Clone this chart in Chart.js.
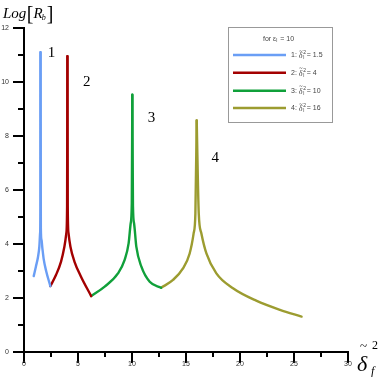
<!DOCTYPE html>
<html><head><meta charset="utf-8">
<script src="https://cdn.jsdelivr.net/npm/chart.js@4"></script>
<style>html,body{margin:0;padding:0;background:#fff}canvas{display:block}</style>
</head><body>
<canvas id="c" width="382" height="377"></canvas>
<script>
// ---- data ----
const seriesNames = ['1', '2', '3', '4'];
const legendValues = ['1.5', '4', '10', '16'];
const legendTitleValue = '10';

const s1X = [0.90, 1.10, 1.30, 1.42, 1.49, 1.52, 1.53, 1.56, 1.62, 1.70, 1.82, 2.05, 2.44];
const s1Y = [2.81, 3.16, 3.53, 3.90, 4.40, 5.30, 11.10, 4.60, 4.15, 3.85, 3.45, 3.00, 2.44];

const s2X = [2.44, 2.96, 3.43, 3.74, 3.92, 3.99, 4.02, 4.05, 4.12, 4.30, 4.67, 5.28, 6.22];
const s2Y = [2.44, 2.85, 3.35, 3.90, 4.40, 5.40, 10.96, 5.40, 4.40, 3.90, 3.35, 2.79, 2.07];

const s3X = [6.22, 7.47, 8.70, 9.32, 9.69, 9.88, 9.98, 10.03, 10.09, 10.19, 10.40, 10.87, 11.64, 12.70];
const s3Y = [2.07, 2.42, 2.91, 3.41, 4.03, 4.77, 5.50, 9.53, 5.40, 4.77, 3.90, 3.16, 2.60, 2.38];

const s4X = [12.70, 13.80, 14.72, 15.34, 15.71, 15.87, 15.99, 16.18, 16.42, 16.89, 17.81, 19.35, 21.50, 23.70, 25.70];
const s4Y = [2.38, 2.67, 3.10, 3.65, 4.40, 5.14, 8.58, 5.14, 4.40, 3.65, 2.91, 2.36, 1.90, 1.56, 1.31];

const xTicks = [0, 2.5, 5, 7.5, 10, 12.5, 15, 17.5, 20, 22.5, 25, 27.5, 30];
const xTickLabels = ['0', '', '5', '', '10', '', '15', '', '20', '', '25', '', '30'];
const yTicks = [0, 1, 2, 3, 4, 5, 6, 7, 8, 9, 10, 11, 12];
const yTickLabels = ['0', '', '2', '', '4', '', '6', '', '8', '', '10', '', '12'];

// ---- styles ----
const colors = ['#6a9ef5', '#a30000', '#10a03a', '#9c9c30'];
const curveLabelPos = [[2.55, 11.06], [5.8, 10.0], [11.8, 8.65], [17.7, 7.2]];

const allX = [s1X, s2X, s3X, s4X], allY = [s1Y, s2Y, s3Y, s4Y];
const datasets = [];
allX.forEach((xs, i) => {
  const ys = allY[i];
  const pk = ys.indexOf(Math.max(...ys));
  const branches = [[0, pk + 1], [pk, ys.length]];
  branches.forEach(([a, b]) => {
    datasets.push({
      label: seriesNames[i],
      data: xs.slice(a, b).map((x, k) => ({ x: x, y: ys[a + k] })),
      showLine: true,
      borderColor: colors[i],
      backgroundColor: colors[i],
      borderWidth: 2.4,
      pointRadius: 0,
      cubicInterpolationMode: 'monotone',
      fill: false
    });
  });
});

const axisPlugin = {
  id: 'axes',
  afterDraw(chart) {
    const ctx = chart.ctx, xs = chart.scales.x, ys = chart.scales.y;
    const x0 = xs.getPixelForValue(0), y0 = ys.getPixelForValue(0);
    const xEnd = xs.getPixelForValue(30), yTop = ys.getPixelForValue(12);
    ctx.save();
    ctx.strokeStyle = '#000';
    ctx.lineWidth = 2;
    ctx.lineCap = 'butt';
    ctx.beginPath(); ctx.moveTo(x0 - 1, y0); ctx.lineTo(xEnd + 1, y0); ctx.stroke();
    ctx.beginPath(); ctx.moveTo(x0, yTop - 1); ctx.lineTo(x0, y0 + 1); ctx.stroke();
    xTicks.forEach((v, i) => {
      const p = xs.getPixelForValue(v);
      const len = xTickLabels[i] ? 11 : 5;
      ctx.beginPath(); ctx.moveTo(p, y0); ctx.lineTo(p, y0 + len); ctx.stroke();
    });
    yTicks.forEach((v, i) => {
      const p = ys.getPixelForValue(v);
      const len = yTickLabels[i] ? 11 : 6;
      ctx.beginPath(); ctx.moveTo(x0 - len, p); ctx.lineTo(x0, p); ctx.stroke();
    });
    ctx.fillStyle = '#333';
    ctx.font = '7px "Liberation Sans", Arial, sans-serif';
    ctx.textAlign = 'center'; ctx.textBaseline = 'middle';
    xTicks.forEach((v, i) => {
      if (!xTickLabels[i]) return;
      ctx.fillText(xTickLabels[i], xs.getPixelForValue(v), y0 + 12);
    });
    ctx.textAlign = 'right';
    yTicks.forEach((v, i) => {
      if (!yTickLabels[i]) return;
      ctx.fillText(yTickLabels[i], 9, ys.getPixelForValue(v));
    });

    // curve number labels
    ctx.fillStyle = '#000';
    ctx.font = '15px "Liberation Serif", "Times New Roman", serif';
    ctx.textAlign = 'center';
    seriesNames.forEach((n, i) => {
      ctx.fillText(n, xs.getPixelForValue(curveLabelPos[i][0]), ys.getPixelForValue(curveLabelPos[i][1]));
    });

    // y title  Log[R_b]
    ctx.textAlign = 'left'; ctx.textBaseline = 'alphabetic';
    let x = 3;
    const base = 18;
    ctx.font = 'italic 15px "Liberation Serif", serif';
    ctx.fillText('Log', x, base); x += ctx.measureText('Log').width + 0.5;
    ctx.font = '20px "Liberation Serif", serif';
    ctx.fillText('[', x, base + 2); x += ctx.measureText('[').width;
    ctx.font = 'italic 15px "Liberation Serif", serif';
    ctx.fillText('R', x, base); x += ctx.measureText('R').width - 1;
    ctx.font = 'italic 8px "Liberation Serif", serif';
    ctx.fillText('b', x, base + 2); x += ctx.measureText('b').width + 1;
    ctx.font = '20px "Liberation Serif", serif';
    ctx.fillText(']', x, base + 2);

    // x title  δ̃_f^2
    ctx.font = 'italic 22px "Liberation Serif", serif';
    ctx.fillText('\u03b4', 357, 371);
    ctx.font = '13px "Liberation Serif", serif';
    ctx.fillText('~', 360, 350);
    ctx.font = 'italic 12px "Liberation Serif", serif';
    ctx.fillText('f', 371, 375);
    ctx.font = '12px "Liberation Serif", serif';
    ctx.fillText('2', 372, 349);

    // legend box
    const bx = 228, by = 27, bw = 104, bh = 95;
    ctx.fillStyle = '#fff';
    ctx.fillRect(bx, by, bw, bh);
    ctx.strokeStyle = '#999'; ctx.lineWidth = 1;
    ctx.strokeRect(bx + 0.5, by + 0.5, bw, bh);
    ctx.fillStyle = '#444';
    ctx.font = '7px "Liberation Sans", Arial, sans-serif';
    ctx.textBaseline = 'middle';
    let tx = 263;
    ctx.fillText('for \u03b5', tx, 39); tx += ctx.measureText('for \u03b5').width;
    ctx.font = '5px "Liberation Sans", Arial, sans-serif';
    ctx.fillText('l', tx, 41); tx += ctx.measureText('l').width + 1;
    ctx.font = '7px "Liberation Sans", Arial, sans-serif';
    ctx.fillText(' = ' + legendTitleValue, tx, 39);
    const rows = [55, 72.7, 90.7, 108];
    rows.forEach((ry, i) => {
      ctx.strokeStyle = colors[i]; ctx.lineWidth = 2.4;
      ctx.beginPath(); ctx.moveTo(233, ry); ctx.lineTo(286, ry); ctx.stroke();
      ctx.fillStyle = '#444';
      let lx = 291;
      ctx.font = '7px "Liberation Sans", Arial, sans-serif';
      ctx.fillText(seriesNames[i] + ': ', lx, ry); lx += ctx.measureText(seriesNames[i] + ': ').width;
      ctx.font = 'italic 8px "Liberation Serif", serif';
      ctx.fillText('\u03b4', lx, ry + 1);
      ctx.font = '6px "Liberation Serif", serif';
      ctx.fillText('~', lx + 0.5, ry - 4);
      lx += 4.5;
      ctx.font = '5px "Liberation Sans", Arial, sans-serif';
      ctx.fillText('2', lx, ry - 2.5);
      ctx.fillText('l', lx, ry + 2.5);
      lx += 3.5;
      ctx.font = '7px "Liberation Sans", Arial, sans-serif';
      ctx.fillText('= ' + legendValues[i], lx, ry);
    });
    ctx.restore();
  }
};

new Chart(document.getElementById('c'), {
  type: 'scatter',
  data: { datasets: datasets },
  options: {
    responsive: false,
    animation: false,
    layout: { padding: { left: 24, right: 34, top: 28, bottom: 25 } },
    scales: {
      x: { type: 'linear', min: 0, max: 30, display: false },
      y: { type: 'linear', min: 0, max: 12, display: false }
    },
    plugins: { legend: { display: false }, tooltip: { enabled: false } },
    elements: { line: { borderCapStyle: 'round', borderJoinStyle: 'round' } }
  },
  plugins: [axisPlugin]
});
</script>
</body></html>
